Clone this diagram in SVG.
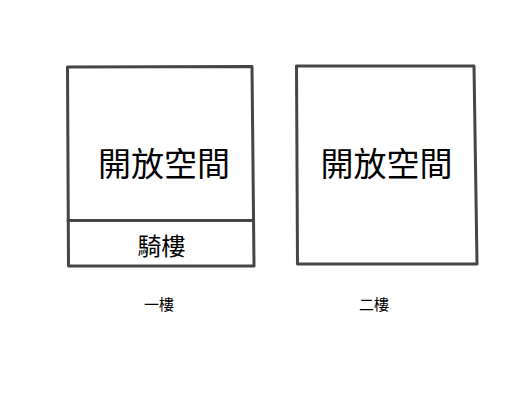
<svg xmlns="http://www.w3.org/2000/svg" width="510" height="400" viewBox="0 0 510 400">
<style>
.box{fill:none;stroke:#454545;stroke-width:3;stroke-linejoin:round;stroke-linecap:round}
.t{font-family:"Noto Sans CJK TC","Noto Sans CJK SC",sans-serif;fill:#000;text-anchor:middle}
</style>
<rect width="510" height="400" fill="#fff"/>
<g id="floor1">
<path class="box" d="M67.5,67 L252,66.5 L254,266 L68.5,266 Z"/>
<path class="box" d="M68,220.5 L253.5,220.5"/>
<text class="t" x="164" y="175.5" font-size="33">開放空間</text>
<text class="t" x="161.5" y="255" font-size="24">騎樓</text>
</g>
<g id="floor2">
<path class="box" d="M296.5,66 L474,66 L477,264 L297.5,264 Z"/>
<text class="t" x="386.5" y="175.5" font-size="33">開放空間</text>
</g>
<g id="labels">
<text class="t" x="159" y="310" font-size="15">一樓</text>
<text class="t" x="374" y="310" font-size="15">二樓</text>
</g>
</svg>
